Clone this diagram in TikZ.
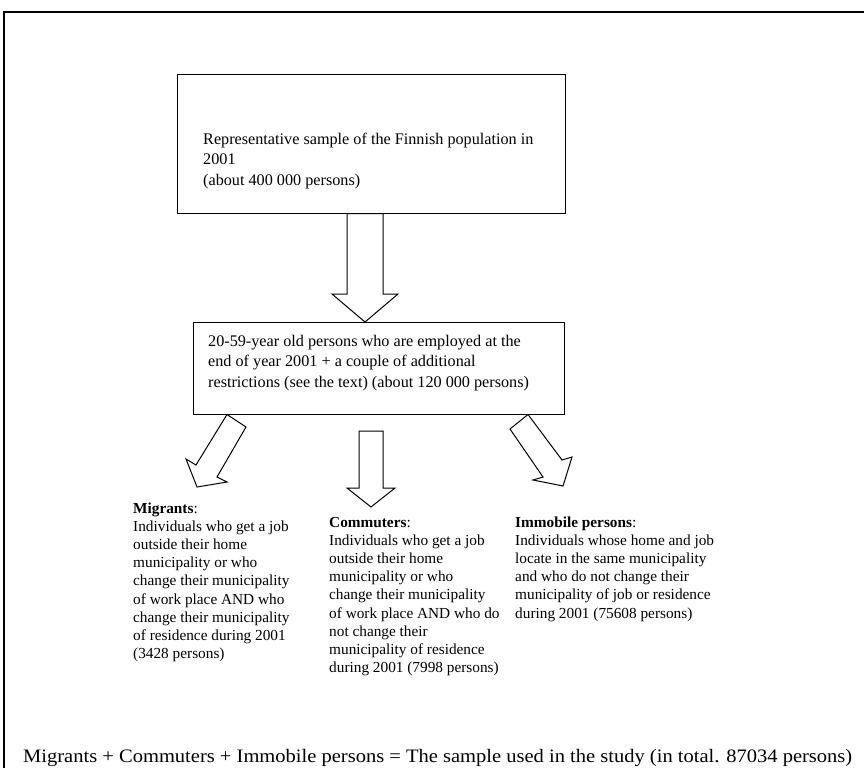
\documentclass[tikz,border=0pt]{standalone}
\usepackage{fontspec}
\setmainfont{Liberation Serif}
\usepackage{graphicx}
\begin{document}
\begin{tikzpicture}[x=1pt,y=-1pt,
  boxline/.style={draw=black,line width=1.1pt},
  blockarrow/.style={draw=black,line width=1pt,fill=white,line join=miter},
  txt/.style={anchor=base west,inner sep=0pt,font=\fontsize{15.3}{18.2}\selectfont},
  boxtxt/.style={anchor=base west,inner sep=0pt,font=\fontsize{16.2}{20.5}\selectfont}]
\useasboundingbox (0,0) rectangle (864,780);
% outer frame
\draw[line width=2pt] (4,768) -- (4,12) -- (866,12);
% boxes
\node[boxline,minimum width=388pt,minimum height=139pt,anchor=north west] (top) at (177,74) {};
\node[boxline,minimum width=371pt,minimum height=92pt,anchor=north west] (mid) at (193,322) {};
\node[boxtxt] (toptxt) at (203,144) {\parbox[t]{355pt}{\raggedright Representative sample of the Finnish population in\\2001\\(about 400 000 persons)}};
\node[boxtxt] (midtxt) at (208,346) {\parbox[t]{352pt}{\raggedright 20-59-year old persons who are employed at the\\end of year 2001 + a couple of additional\\restrictions (see the text) (about 120 000 persons)}};
% arrows
\draw[blockarrow] (347,213.5) -- (347,294) -- (332,294) -- (365,322) -- (398,294) -- (383,294) -- (383,213.5) -- cycle;
\draw[blockarrow] (359,431) -- (359,488) -- (347,488) -- (371,507) -- (395,488) -- (383,488) -- (383,431) -- cycle;
\draw[blockarrow] (227,414.5) -- (196,465) -- (186,459) -- (197,487) -- (227,482) -- (217,477) -- (246,427) -- cycle;
\draw[blockarrow] (528,414.5) -- (510,429) -- (543,477) -- (533,480) -- (563,486) -- (572,457) -- (562,460) -- cycle;
% texts
\node[txt] (migr) at (133,513) {\parbox[t]{200pt}{\raggedright\textbf{Migrants}:\\Individuals who get a job\\outside their home\\municipality or who\\change their municipality\\of work place AND who\\change their municipality\\of residence during 2001\\(3428 persons)}};
\node[txt] (comm) at (329,527) {\parbox[t]{200pt}{\raggedright\textbf{Commuters}:\\Individuals who get a job\\outside their home\\municipality or who\\change their municipality\\of work place AND who do\\not change their\\municipality of residence\\during 2001 (7998 persons)}};
\node[txt] (immo) at (515,527) {\parbox[t]{250pt}{\raggedright\textbf{Immobile persons}:\\Individuals whose home and job\\locate in the same municipality\\and who do not change their\\municipality of job or residence\\during 2001 (75608 persons)}};
\node[anchor=base west,inner sep=0pt] (sum) at (23,762) {\resizebox{829pt}{\height}{\fontsize{19}{22}\selectfont Migrants + Commuters + Immobile persons = The sample used in the study (in total. 87034 persons)}};
\end{tikzpicture}
\end{document}
